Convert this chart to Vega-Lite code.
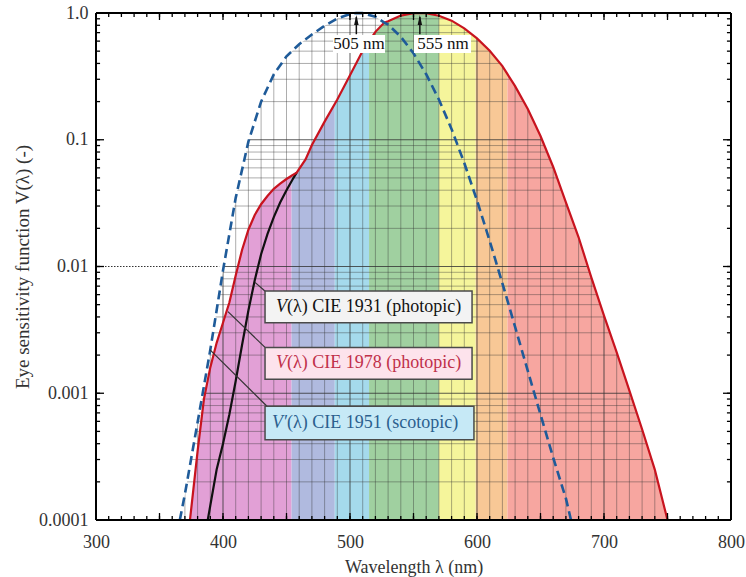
{
  "$schema": "https://vega.github.io/schema/vega-lite/v6.json",
  "width": 635,
  "height": 507,
  "autosize": {"type": "none"},
  "padding": {"left": 96, "top": 13, "right": 15, "bottom": 57},
  "background": "white",
  "config": {
    "view": {"stroke": null},
    "axis": {"labelFont": "Liberation Serif", "titleFont": "Liberation Serif", "labelFontSize": 18, "titleFontSize": 18, "titleFontWeight": "normal", "labelColor": "#333", "titleColor": "#333", "grid": false, "domain": false, "ticks": false},
    "text": {"font": "Liberation Serif"}
  },
  "datasets": {
    "bands": [
      {"start": 374, "end": 454, "band": "violet"},
      {"start": 454, "end": 488, "band": "blue"},
      {"start": 488, "end": 515, "band": "cyan"},
      {"start": 515, "end": 570, "band": "green"},
      {"start": 570, "end": 599, "band": "yellow"},
      {"start": 599, "end": 624, "band": "orange"},
      {"start": 624, "end": 751, "band": "red"}
    ],
    "phot": [
      {"wl": 300, "v": 0.0001}, {"wl": 374, "v": 0.0001}, {"wl": 380, "v": 0.00035}, {"wl": 385, "v": 0.0009}, {"wl": 390, "v": 0.0016}, {"wl": 395, "v": 0.0025}, {"wl": 400, "v": 0.0036}, {"wl": 405, "v": 0.0052}, {"wl": 410, "v": 0.0085}, {"wl": 415, "v": 0.0135}, {"wl": 420, "v": 0.0195}, {"wl": 425, "v": 0.0255}, {"wl": 430, "v": 0.031}, {"wl": 435, "v": 0.036}, {"wl": 440, "v": 0.041}, {"wl": 445, "v": 0.045}, {"wl": 450, "v": 0.049}, {"wl": 454, "v": 0.052}, {"wl": 458, "v": 0.055}, {"wl": 465, "v": 0.07}, {"wl": 470, "v": 0.091}, {"wl": 480, "v": 0.139}, {"wl": 490, "v": 0.208}, {"wl": 500, "v": 0.323}, {"wl": 510, "v": 0.503}, {"wl": 520, "v": 0.71}, {"wl": 527, "v": 0.84}, {"wl": 530, "v": 0.862}, {"wl": 540, "v": 0.954}, {"wl": 550, "v": 0.995}, {"wl": 555, "v": 1.0}, {"wl": 560, "v": 0.995}, {"wl": 570, "v": 0.952}, {"wl": 580, "v": 0.87}, {"wl": 590, "v": 0.757}, {"wl": 600, "v": 0.631}, {"wl": 610, "v": 0.503}, {"wl": 620, "v": 0.381}, {"wl": 630, "v": 0.265}, {"wl": 640, "v": 0.175}, {"wl": 650, "v": 0.107}, {"wl": 660, "v": 0.061}, {"wl": 670, "v": 0.032}, {"wl": 680, "v": 0.017}, {"wl": 690, "v": 0.0082}, {"wl": 700, "v": 0.0041}, {"wl": 710, "v": 0.0021}, {"wl": 720, "v": 0.00105}, {"wl": 730, "v": 0.00052}, {"wl": 740, "v": 0.00025}, {"wl": 750, "v": 0.0001}, {"wl": 800, "v": 0.0001}
    ],
    "cie1931": [
      {"wl": 388, "v": 0.0001}, {"wl": 390, "v": 0.00013}, {"wl": 395, "v": 0.00025}, {"wl": 400, "v": 0.0004}, {"wl": 405, "v": 0.00068}, {"wl": 410, "v": 0.00125}, {"wl": 415, "v": 0.0024}, {"wl": 420, "v": 0.0045}, {"wl": 425, "v": 0.0078}, {"wl": 430, "v": 0.0125}, {"wl": 435, "v": 0.018}, {"wl": 440, "v": 0.0245}, {"wl": 445, "v": 0.032}, {"wl": 450, "v": 0.04}, {"wl": 455, "v": 0.049}, {"wl": 458, "v": 0.055}
    ],
    "scot": [
      {"wl": 300, "v": 0.0001}, {"wl": 366, "v": 0.0001}, {"wl": 370, "v": 0.00016}, {"wl": 380, "v": 0.00059}, {"wl": 390, "v": 0.0022}, {"wl": 400, "v": 0.0093}, {"wl": 410, "v": 0.0348}, {"wl": 420, "v": 0.0966}, {"wl": 430, "v": 0.1998}, {"wl": 440, "v": 0.3281}, {"wl": 450, "v": 0.455}, {"wl": 460, "v": 0.567}, {"wl": 470, "v": 0.676}, {"wl": 480, "v": 0.793}, {"wl": 490, "v": 0.904}, {"wl": 500, "v": 0.982}, {"wl": 505, "v": 1.0}, {"wl": 510, "v": 0.997}, {"wl": 520, "v": 0.935}, {"wl": 527, "v": 0.84}, {"wl": 530, "v": 0.811}, {"wl": 540, "v": 0.65}, {"wl": 550, "v": 0.481}, {"wl": 560, "v": 0.3288}, {"wl": 570, "v": 0.2076}, {"wl": 580, "v": 0.1212}, {"wl": 590, "v": 0.0655}, {"wl": 600, "v": 0.0332}, {"wl": 610, "v": 0.0159}, {"wl": 620, "v": 0.00737}, {"wl": 630, "v": 0.00334}, {"wl": 640, "v": 0.0015}, {"wl": 650, "v": 0.00068}, {"wl": 660, "v": 0.00031}, {"wl": 670, "v": 0.000148}, {"wl": 674, "v": 0.0001}, {"wl": 800, "v": 0.0001}
    ],
    "vgrid": [
      {"wl": 310, "m": 0}, {"wl": 320, "m": 0}, {"wl": 330, "m": 0}, {"wl": 340, "m": 0}, {"wl": 350, "m": 0}, {"wl": 360, "m": 0}, {"wl": 370, "m": 0}, {"wl": 380, "m": 0}, {"wl": 390, "m": 0}, {"wl": 400, "m": 1}, {"wl": 410, "m": 0}, {"wl": 420, "m": 0}, {"wl": 430, "m": 0}, {"wl": 440, "m": 0}, {"wl": 450, "m": 0}, {"wl": 460, "m": 0}, {"wl": 470, "m": 0}, {"wl": 480, "m": 0}, {"wl": 490, "m": 0}, {"wl": 500, "m": 1}, {"wl": 510, "m": 0}, {"wl": 520, "m": 0}, {"wl": 530, "m": 0}, {"wl": 540, "m": 0}, {"wl": 550, "m": 0}, {"wl": 560, "m": 0}, {"wl": 570, "m": 0}, {"wl": 580, "m": 0}, {"wl": 590, "m": 0}, {"wl": 600, "m": 1}, {"wl": 610, "m": 0}, {"wl": 620, "m": 0}, {"wl": 630, "m": 0}, {"wl": 640, "m": 0}, {"wl": 650, "m": 0}, {"wl": 660, "m": 0}, {"wl": 670, "m": 0}, {"wl": 680, "m": 0}, {"wl": 690, "m": 0}, {"wl": 700, "m": 1}, {"wl": 710, "m": 0}, {"wl": 720, "m": 0}, {"wl": 730, "m": 0}, {"wl": 740, "m": 0}, {"wl": 750, "m": 0}, {"wl": 760, "m": 0}, {"wl": 770, "m": 0}, {"wl": 780, "m": 0}, {"wl": 790, "m": 0}
    ],
    "hgrid": [
      {"v": 0.0002, "m": 0}, {"v": 0.0003, "m": 0}, {"v": 0.0004, "m": 0}, {"v": 0.0005, "m": 0}, {"v": 0.0006, "m": 0}, {"v": 0.0007, "m": 0}, {"v": 0.0008, "m": 0}, {"v": 0.0009, "m": 0}, {"v": 0.001, "m": 1},
      {"v": 0.002, "m": 0}, {"v": 0.003, "m": 0}, {"v": 0.004, "m": 0}, {"v": 0.005, "m": 0}, {"v": 0.006, "m": 0}, {"v": 0.007, "m": 0}, {"v": 0.008, "m": 0}, {"v": 0.009, "m": 0}, {"v": 0.01, "m": 1},
      {"v": 0.02, "m": 0}, {"v": 0.03, "m": 0}, {"v": 0.04, "m": 0}, {"v": 0.05, "m": 0}, {"v": 0.06, "m": 0}, {"v": 0.07, "m": 0}, {"v": 0.08, "m": 0}, {"v": 0.09, "m": 0}, {"v": 0.1, "m": 1},
      {"v": 0.2, "m": 0}, {"v": 0.3, "m": 0}, {"v": 0.4, "m": 0}, {"v": 0.5, "m": 0}, {"v": 0.6, "m": 0}, {"v": 0.7, "m": 0}, {"v": 0.8, "m": 0}, {"v": 0.9, "m": 0}
    ],
    "frame": [
      {"wl": 300, "wl2": 800, "v": 1, "v2": 1},
      {"wl": 300, "wl2": 800, "v": 0.0001, "v2": 0.0001},
      {"wl": 300, "wl2": 300, "v": 0.0001, "v2": 1},
      {"wl": 800, "wl2": 800, "v": 0.0001, "v2": 1}
    ],
    "dotted": [{"wl": 300, "wl2": 397, "v": 0.01}],
    "leaders": [
      {"wl": 425.2, "v": 0.0075, "wl2": 433.9, "v2": 0.0063},
      {"wl": 403.9, "v": 0.0044, "wl2": 433.1, "v2": 0.0023},
      {"wl": 389.8, "v": 0.0022, "wl2": 434.6, "v2": 0.00079}
    ],
    "boxes": [
      {"series": "1931", "wl": 433.1, "wl2": 596.1, "v": 0.0064, "v2": 0.0036},
      {"series": "1978", "wl": 433.1, "wl2": 596.1, "v": 0.0023, "v2": 0.00129},
      {"series": "1951", "wl": 433.1, "wl2": 597.6, "v": 0.00079, "v2": 0.00043}
    ],
    "labels": [
      {"series": "1931", "wl": 450.4, "v": 0.0048, "sym": "V", "rest": "(λ) CIE 1931 (photopic)"},
      {"series": "1978", "wl": 450.4, "v": 0.00172, "sym": "V", "rest": "(λ) CIE 1978 (photopic)"},
      {"series": "1951", "wl": 450.4, "v": 0.000586, "sym": "V′", "rest": "(λ) CIE 1951 (scotopic)"}
    ],
    "tags": [
      {"label": "505 nm", "peak": 505, "twl": 507.1, "x1": 486.6, "x2": 527.6, "v1": 0.671, "v2": 0.484, "tv": 0.57, "a1": 0.68, "a2": 0.93, "ah": 0.88},
      {"label": "555 nm", "peak": 555, "twl": 573.2, "x1": 550.4, "x2": 595.3, "v1": 0.671, "v2": 0.484, "tv": 0.57, "a1": 0.68, "a2": 0.93, "ah": 0.88}
    ]
  },
  "resolve": {"scale": {"color": "independent", "fill": "independent"}},
  "encoding": {
    "x": {"type": "quantitative", "scale": {"domain": [300, 800]}},
    "y": {"type": "quantitative", "scale": {"type": "log", "domain": [0.0001, 1]}}
  },
  "layer": [
    {
      "data": {"name": "bands"},
      "mark": {"type": "rect", "strokeWidth": 0},
      "encoding": {
        "x": {"field": "start", "type": "quantitative",
          "axis": {"orient": "bottom", "values": [300, 400, 500, 600, 700, 800], "labelPadding": 13, "labelFlush": false, "labelOverlap": false, "title": "Wavelength  λ  (nm)", "titleBaseline": "middle", "titleY": 47}},
        "x2": {"field": "end"},
        "y": {"datum": 0.0001, "type": "quantitative",
          "axis": {"orient": "left", "values": [0.0001, 0.001, 0.01, 0.1, 1], "labelPadding": 8, "labelOverlap": false, "labelFlush": false,
            "labelExpr": "datum.value > 0.95 ? '1.0' : format(datum.value, '.4~f')",
            "title": "Eye sensitivity function  V(λ)  (-)", "titleFontSize": 19, "titleX": -74, "titleBaseline": "middle"}},
        "y2": {"datum": 1},
        "color": {"field": "band", "type": "nominal", "legend": null,
          "scale": {"domain": ["violet", "blue", "cyan", "green", "yellow", "orange", "red"], "range": ["#e2a0d6", "#b0badf", "#a5daec", "#a0d0a0", "#f5f59b", "#f8c896", "#f7a6a0"]}}
      }
    },
    {
      "data": {"name": "phot"},
      "mark": {"type": "area", "color": "white", "orient": "vertical"},
      "encoding": {"x": {"field": "wl", "type": "quantitative"}, "y": {"field": "v", "type": "quantitative"}, "y2": {"datum": 1}}
    },
    {
      "data": {"name": "vgrid"},
      "mark": {"type": "rule", "color": "#333", "strokeWidth": 1},
      "encoding": {
        "x": {"field": "wl", "type": "quantitative"},
        "opacity": {"field": "m", "type": "quantitative", "legend": null, "scale": {"domain": [0, 1], "range": [0.4, 0.8]}}
      }
    },
    {
      "data": {"name": "hgrid"},
      "mark": {"type": "rule", "color": "#333", "strokeWidth": 1},
      "encoding": {
        "y": {"field": "v", "type": "quantitative"},
        "opacity": {"field": "m", "type": "quantitative", "legend": null, "scale": {"domain": [0, 1], "range": [0.4, 0.85]}}
      }
    },
    {
      "data": {"name": "scot"},
      "transform": [{"filter": "datum.wl <= 527"}],
      "mark": {"type": "area", "color": "white", "orient": "vertical"},
      "encoding": {"x": {"field": "wl", "type": "quantitative"}, "y": {"field": "v", "type": "quantitative"}, "y2": {"datum": 1}}
    },
    {
      "data": {"name": "phot"},
      "transform": [{"filter": "datum.wl >= 527"}],
      "mark": {"type": "area", "color": "white", "orient": "vertical"},
      "encoding": {"x": {"field": "wl", "type": "quantitative"}, "y": {"field": "v", "type": "quantitative"}, "y2": {"datum": 1}}
    },
    {
      "data": {"name": "dotted"},
      "mark": {"type": "rule", "color": "#333", "strokeWidth": 1, "strokeDash": [1.5, 1.5]},
      "encoding": {"x": {"field": "wl", "type": "quantitative"}, "x2": {"field": "wl2"}, "y": {"field": "v", "type": "quantitative"}}
    },
    {
      "data": {"name": "cie1931"},
      "mark": {"type": "line", "color": "#111", "strokeWidth": 2.2},
      "encoding": {"x": {"field": "wl", "type": "quantitative"}, "y": {"field": "v", "type": "quantitative"}}
    },
    {
      "data": {"name": "phot"},
      "transform": [{"filter": "datum.wl >= 374 && datum.wl <= 750"}],
      "mark": {"type": "line", "color": "#c8141f", "strokeWidth": 2.2},
      "encoding": {"x": {"field": "wl", "type": "quantitative"}, "y": {"field": "v", "type": "quantitative"}}
    },
    {
      "data": {"name": "scot"},
      "transform": [{"filter": "datum.wl >= 366 && datum.wl <= 674"}],
      "mark": {"type": "line", "color": "#1f5b99", "strokeWidth": 2.6, "strokeDash": [9, 5]},
      "encoding": {"x": {"field": "wl", "type": "quantitative"}, "y": {"field": "v", "type": "quantitative"}}
    },
    {
      "data": {"name": "vgrid"},
      "mark": {"type": "rule", "color": "black", "strokeWidth": 1.3},
      "encoding": {"x": {"field": "wl", "type": "quantitative"}, "y": {"datum": 0.0001, "type": "quantitative"}, "y2": {"datum": 0.0001075}}
    },
    {
      "data": {"name": "vgrid"},
      "transform": [{"filter": "datum.wl % 50 == 0"}],
      "mark": {"type": "rule", "color": "black", "strokeWidth": 1.3},
      "encoding": {"x": {"field": "wl", "type": "quantitative"}, "y": {"datum": 0.0001, "type": "quantitative"}, "y2": {"datum": 0.0001135}}
    },
    {
      "data": {"name": "vgrid"},
      "mark": {"type": "rule", "color": "black", "strokeWidth": 1.3},
      "encoding": {"x": {"field": "wl", "type": "quantitative"}, "y": {"datum": 1, "type": "quantitative"}, "y2": {"datum": 0.93}}
    },
    {
      "data": {"name": "vgrid"},
      "transform": [{"filter": "datum.wl % 50 == 0"}],
      "mark": {"type": "rule", "color": "black", "strokeWidth": 1.3},
      "encoding": {"x": {"field": "wl", "type": "quantitative"}, "y": {"datum": 1, "type": "quantitative"}, "y2": {"datum": 0.881}}
    },
    {
      "data": {"name": "hgrid"},
      "mark": {"type": "rule", "color": "black", "strokeWidth": 1.3},
      "encoding": {"y": {"field": "v", "type": "quantitative"}, "x": {"datum": 300, "type": "quantitative"}, "x2": {"datum": 303.2}}
    },
    {
      "data": {"name": "hgrid"},
      "transform": [{"filter": "datum.m == 1"}],
      "mark": {"type": "rule", "color": "black", "strokeWidth": 1.3},
      "encoding": {"y": {"field": "v", "type": "quantitative"}, "x": {"datum": 300, "type": "quantitative"}, "x2": {"datum": 306.3}}
    },
    {
      "data": {"name": "hgrid"},
      "mark": {"type": "rule", "color": "black", "strokeWidth": 1.3},
      "encoding": {"y": {"field": "v", "type": "quantitative"}, "x": {"datum": 800, "type": "quantitative"}, "x2": {"datum": 796.8}}
    },
    {
      "data": {"name": "hgrid"},
      "transform": [{"filter": "datum.m == 1"}],
      "mark": {"type": "rule", "color": "black", "strokeWidth": 1.3},
      "encoding": {"y": {"field": "v", "type": "quantitative"}, "x": {"datum": 800, "type": "quantitative"}, "x2": {"datum": 793.7}}
    },
    {
      "data": {"name": "leaders"},
      "mark": {"type": "rule", "color": "#333", "strokeWidth": 1.2},
      "encoding": {"x": {"field": "wl", "type": "quantitative"}, "x2": {"field": "wl2"}, "y": {"field": "v", "type": "quantitative"}, "y2": {"field": "v2"}}
    },
    {
      "data": {"name": "boxes"},
      "mark": {"type": "rect", "stroke": "#4a4a4a", "strokeWidth": 1.5},
      "encoding": {
        "x": {"field": "wl", "type": "quantitative"}, "x2": {"field": "wl2"},
        "y": {"field": "v", "type": "quantitative"}, "y2": {"field": "v2"},
        "fill": {"field": "series", "type": "nominal", "legend": null, "scale": {"domain": ["1931", "1978", "1951"], "range": ["#f3f3f3", "#fde3ec", "#c6e9f6"]}}
      }
    },
    {
      "data": {"name": "labels"},
      "mark": {"type": "text", "align": "right", "baseline": "middle", "fontSize": 18, "fontStyle": "italic", "font": "Liberation Serif"},
      "encoding": {
        "x": {"field": "wl", "type": "quantitative"}, "y": {"field": "v", "type": "quantitative"},
        "text": {"field": "sym"},
        "color": {"field": "series", "type": "nominal", "legend": null, "scale": {"domain": ["1931", "1978", "1951"], "range": ["#111111", "#c0304a", "#2b5f8e"]}}
      }
    },
    {
      "data": {"name": "labels"},
      "mark": {"type": "text", "align": "left", "baseline": "middle", "fontSize": 18, "font": "Liberation Serif"},
      "encoding": {
        "x": {"field": "wl", "type": "quantitative"}, "y": {"field": "v", "type": "quantitative"},
        "text": {"field": "rest"},
        "color": {"field": "series", "type": "nominal", "legend": null, "scale": {"domain": ["1931", "1978", "1951"], "range": ["#111111", "#c0304a", "#2b5f8e"]}}
      }
    },
    {
      "data": {"name": "tags"},
      "mark": {"type": "rect", "color": "white"},
      "encoding": {"x": {"field": "x1", "type": "quantitative"}, "x2": {"field": "x2"}, "y": {"field": "v1", "type": "quantitative"}, "y2": {"field": "v2"}}
    },
    {
      "data": {"name": "tags"},
      "mark": {"type": "rule", "color": "#111", "strokeWidth": 1.5},
      "encoding": {"x": {"field": "peak", "type": "quantitative"}, "y": {"field": "a1", "type": "quantitative"}, "y2": {"field": "a2"}}
    },
    {
      "data": {"name": "tags"},
      "mark": {"type": "point", "shape": "M0,-1L0.45,1L-0.45,1Z", "filled": true, "color": "#111", "size": 100, "opacity": 1},
      "encoding": {"x": {"field": "peak", "type": "quantitative"}, "y": {"field": "ah", "type": "quantitative"}}
    },
    {
      "data": {"name": "tags"},
      "mark": {"type": "text", "align": "center", "baseline": "middle", "fontSize": 17, "font": "Liberation Serif", "color": "#111"},
      "encoding": {"x": {"field": "twl", "type": "quantitative"}, "y": {"field": "tv", "type": "quantitative"}, "text": {"field": "label"}}
    },
    {
      "data": {"name": "frame"},
      "mark": {"type": "rule", "color": "black", "strokeWidth": 2},
      "encoding": {"x": {"field": "wl", "type": "quantitative"}, "x2": {"field": "wl2"}, "y": {"field": "v", "type": "quantitative"}, "y2": {"field": "v2"}}
    }
  ]
}
